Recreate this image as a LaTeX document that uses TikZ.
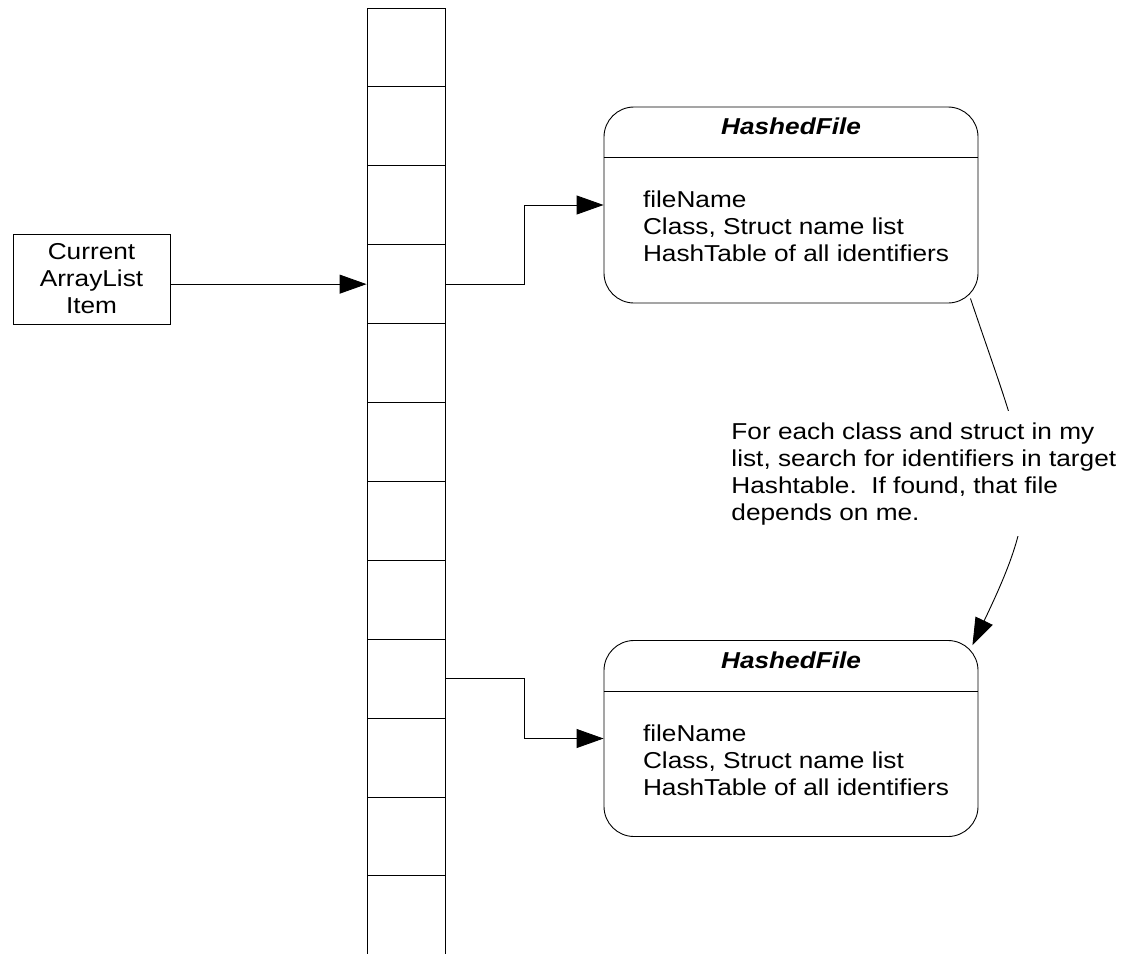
\documentclass[tikz,border=0pt]{standalone}
\usepackage{fontspec}
\setmainfont{Liberation Sans}[FakeStretch=1.14]
\usetikzlibrary{arrows.meta,calc}
\begin{document}
\begin{tikzpicture}[x=1pt,y=-1pt,
  line width=0.9pt,
  every node/.style={font=\fontsize{23}{27}\selectfont},
  cellbox/.style={draw,minimum width=78pt,minimum height=78.9pt,inner sep=0pt},
  itembox/.style={draw,minimum width=157pt,minimum height=90pt,inner sep=0pt,align=center},
  filebox/.style={draw,rounded corners=30pt,minimum width=374pt,minimum height=196pt,inner sep=0pt},
  titletext/.style={font=\fontsize{23}{27}\selectfont\bfseries\itshape,anchor=base},
  bodytext/.style={align=left,anchor=base west,inner sep=0pt},
  arr/.style={-{Triangle[length=27pt,width=19pt]}}]
\useasboundingbox (0,0) rectangle (1123,953);

% the array column
\foreach \i in {1,...,12}
  \node[cellbox] (cell\i) at (406,{8+78.9*(\i-0.5)}) {};

% current item pointer
\node[itembox] (cur) at (91.5,279) {Current\\ArrayList\\Item};
\draw[arr] (cur.east |- cell4.west) -- (cell4.west);

% hashed file records (base anchor sits on the last text line)
\node[filebox] (hf1) at (791,205) {};
\node[filebox] (hf2) at (791,738.5) {};
\foreach \h in {hf1,hf2} {
  \draw ($(\h.north west)+(0,51)$) -- ($(\h.north east)+(0,51)$);
  \node[titletext] at ($(\h.north)+(0,28)$) {HashedFile};
  \node[bodytext] at ($(\h.north west)+(39,155)$)
    {fileName\\Class, Struct name list\\HashTable of all identifiers};
}

% links from array slots to records
\draw[arr] (cell4.east) -- ++(79,0) |- (hf1.west);
\draw[arr] (cell9.east) -- ++(79,0) |- (hf2.west);

% dependency arc between records
\coordinate (d1) at ($(hf1.south east)+(-8,-5)$);
\coordinate (d2) at ($(hf2.north east)+(-6,5)$);
\draw[arr] (d1) .. controls (1030,475) and (1047,490) .. (d2);
\node[bodytext,fill=white,inner sep=11pt,anchor=base west] at (720,520)
  {For each class and struct in my\\list, search for identifiers in target\\Hashtable.\ \ If found, that file\\depends on me.};
\end{tikzpicture}
\end{document}
